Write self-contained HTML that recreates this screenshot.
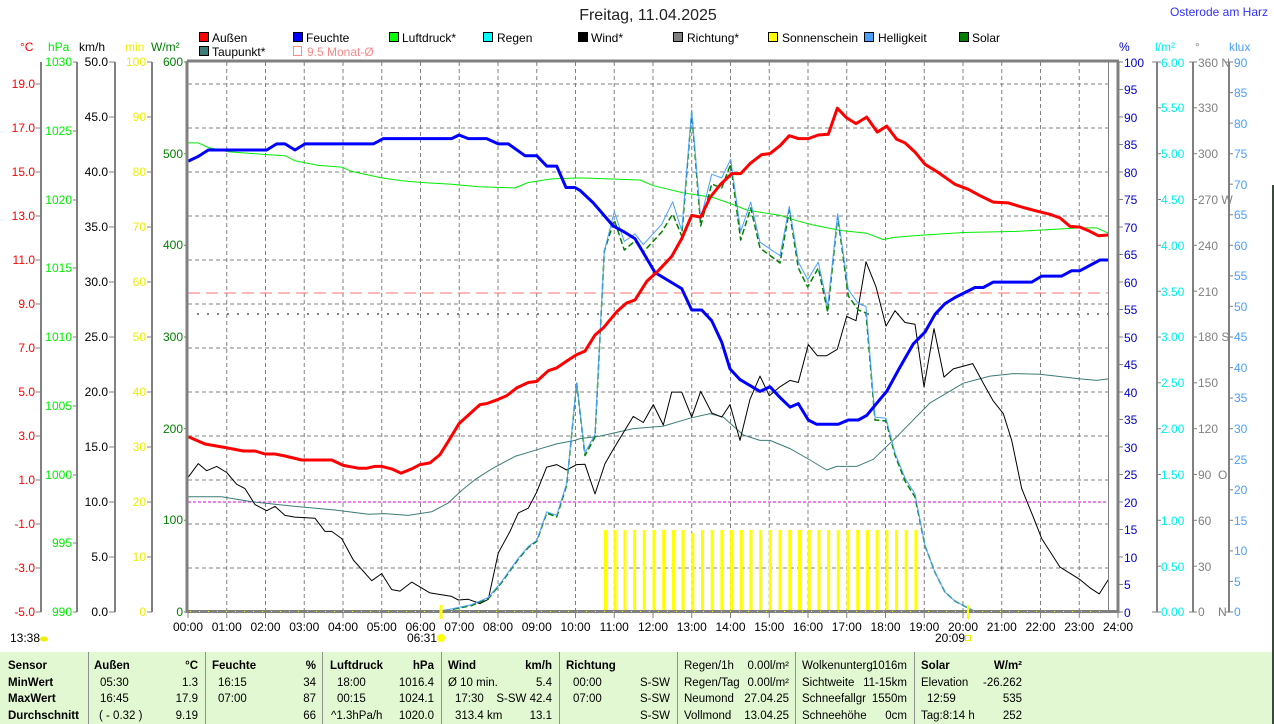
<!DOCTYPE html>
<html><head><meta charset="utf-8"><style>
html,body{margin:0;padding:0;background:#fff;}
svg{display:block;font-family:"Liberation Sans",sans-serif;font-size:12px;}
.tb text{font-size:11.5px;}
</style></head><body>
<svg width="1274" height="724" viewBox="0 0 1274 724" xmlns="http://www.w3.org/2000/svg">
<rect x="0" y="0" width="1274" height="724" fill="#fff"/>
<rect x="1272" y="185" width="2" height="539" fill="#3a4a3a"/>
<text x="648" y="20" font-size="16" text-anchor="middle" fill="#222">Freitag, 11.04.2025</text>
<text x="1268" y="16" text-anchor="end" fill="#3030ff">Osterode am Harz</text>

<!-- legend -->
<g stroke="#000" stroke-width="1">
<rect x="199.5" y="32.5" width="9" height="9" fill="#f00"/>
<rect x="293.5" y="32.5" width="9" height="9" fill="#00f"/>
<rect x="389.5" y="32.5" width="9" height="9" fill="#0f0"/>
<rect x="483.5" y="32.5" width="9" height="9" fill="#0ff"/>
<rect x="578.5" y="32.5" width="9" height="9" fill="#000"/>
<rect x="673.5" y="32.5" width="9" height="9" fill="#808080"/>
<rect x="768.5" y="32.5" width="9" height="9" fill="#ff0"/>
<rect x="864.5" y="32.5" width="9" height="9" fill="#4aa0ff"/>
<rect x="959.5" y="32.5" width="9" height="9" fill="#008000"/>
<rect x="199.5" y="46.5" width="9" height="9" fill="#3c7c78"/>
</g>
<rect x="293.5" y="46.5" width="8" height="9" fill="none" stroke="#f88" stroke-width="1"/>
<g fill="#000">
<text x="212" y="42">Außen</text><text x="306" y="42">Feuchte</text><text x="402" y="42">Luftdruck*</text>
<text x="497" y="42">Regen</text><text x="591" y="42">Wind*</text><text x="687" y="42">Richtung*</text>
<text x="782" y="42">Sonnenschein</text><text x="878" y="42">Helligkeit</text><text x="972" y="42">Solar</text>
<text x="212" y="56">Taupunkt*</text>
</g>
<text x="307" y="56" fill="#f88">9.5 Monat-Ø</text>

<!-- axis titles -->
<text x="20" y="51" fill="#f00">°C</text>
<text x="48" y="51" fill="#0e0">hPa</text>
<text x="79" y="51" fill="#000">km/h</text>
<text x="125" y="51" fill="#ee0">min</text>
<text x="151" y="51" fill="#008000">W/m²</text>
<text x="1119" y="51" fill="#00c">%</text>
<text x="1155" y="51" fill="#0ee">l/m²</text>
<text x="1195" y="51" fill="#808080">°</text>
<text x="1229" y="51" fill="#4aa0ff">klux</text>

<!-- left axis lines -->
<g stroke="#808080" stroke-width="2">
<line x1="41" y1="62" x2="41" y2="612"/>
<line x1="77" y1="62" x2="77" y2="612"/>
<line x1="115" y1="62" x2="115" y2="612"/>
<line x1="152" y1="62" x2="152" y2="612"/>
<line x1="1157" y1="62" x2="1157" y2="612"/>
<line x1="1193" y1="62" x2="1193" y2="612"/>
<line x1="1229" y1="62" x2="1229" y2="612"/>
</g>

<!-- grid -->
<g stroke="#808080" stroke-width="1" stroke-dasharray="4,3">
<line x1="188" y1="84" x2="1108" y2="84"/><line x1="188" y1="128" x2="1108" y2="128"/>
<line x1="188" y1="172" x2="1108" y2="172"/><line x1="188" y1="216" x2="1108" y2="216"/>
<line x1="188" y1="260" x2="1108" y2="260"/><line x1="188" y1="304" x2="1108" y2="304"/>
<line x1="188" y1="348" x2="1108" y2="348"/><line x1="188" y1="392" x2="1108" y2="392"/>
<line x1="188" y1="436" x2="1108" y2="436"/><line x1="188" y1="480" x2="1108" y2="480"/>
<line x1="188" y1="524" x2="1108" y2="524"/><line x1="188" y1="568" x2="1108" y2="568"/>
<line x1="226.75" y1="62" x2="226.75" y2="612"/><line x1="265.5" y1="62" x2="265.5" y2="612"/>
<line x1="304.25" y1="62" x2="304.25" y2="612"/><line x1="343" y1="62" x2="343" y2="612"/>
<line x1="381.75" y1="62" x2="381.75" y2="612"/><line x1="420.5" y1="62" x2="420.5" y2="612"/>
<line x1="459.25" y1="62" x2="459.25" y2="612"/><line x1="498" y1="62" x2="498" y2="612"/>
<line x1="536.75" y1="62" x2="536.75" y2="612"/><line x1="575.5" y1="62" x2="575.5" y2="612"/>
<line x1="614.25" y1="62" x2="614.25" y2="612"/><line x1="653" y1="62" x2="653" y2="612"/>
<line x1="691.75" y1="62" x2="691.75" y2="612"/><line x1="730.5" y1="62" x2="730.5" y2="612"/>
<line x1="769.25" y1="62" x2="769.25" y2="612"/><line x1="808" y1="62" x2="808" y2="612"/>
<line x1="846.75" y1="62" x2="846.75" y2="612"/><line x1="885.5" y1="62" x2="885.5" y2="612"/>
<line x1="924.25" y1="62" x2="924.25" y2="612"/><line x1="963" y1="62" x2="963" y2="612"/>
<line x1="1001.75" y1="62" x2="1001.75" y2="612"/><line x1="1040.5" y1="62" x2="1040.5" y2="612"/>
<line x1="1079.25" y1="62" x2="1079.25" y2="612"/>
</g>

<!-- reference lines -->
<line x1="188" y1="293" x2="1108" y2="293" stroke="#ff7070" stroke-width="1" stroke-dasharray="12,6"/>
<line x1="197" y1="314" x2="1108" y2="314" stroke="#808080" stroke-width="2" stroke-dasharray="2,8"/>
<line x1="188" y1="502" x2="1108" y2="502" stroke="#e000e0" stroke-width="1" stroke-dasharray="3,2"/>

<!-- sunshine bars -->
<g fill="#ff0">
<rect x="604" y="530" width="3" height="82"/><rect x="613.7" y="530" width="3" height="82"/><rect x="623.4" y="530" width="3" height="82"/><rect x="633.1" y="530" width="3" height="82"/>
<rect x="642.8" y="530" width="3" height="82"/><rect x="652.5" y="530" width="3" height="82"/><rect x="662.2" y="530" width="3" height="82"/><rect x="671.9" y="530" width="3" height="82"/>
<rect x="681.6" y="530" width="3" height="82"/><rect x="691.3" y="533" width="3" height="79"/><rect x="701" y="530" width="3" height="82"/><rect x="710.7" y="530" width="3" height="82"/>
<rect x="720.4" y="530" width="3" height="82"/><rect x="730.1" y="530" width="3" height="82"/><rect x="739.8" y="530" width="3" height="82"/><rect x="749.5" y="530" width="3" height="82"/>
<rect x="759.2" y="530" width="3" height="82"/><rect x="768.9" y="530" width="3" height="82"/><rect x="778.6" y="530" width="3" height="82"/><rect x="788.3" y="530" width="3" height="82"/>
<rect x="798" y="530" width="3" height="82"/><rect x="807.7" y="530" width="3" height="82"/><rect x="817.4" y="530" width="3" height="82"/><rect x="827.1" y="530" width="3" height="82"/>
<rect x="836.8" y="530" width="3" height="82"/><rect x="846.5" y="530" width="3" height="82"/><rect x="856.2" y="530" width="3" height="82"/><rect x="865.9" y="530" width="3" height="82"/>
<rect x="875.6" y="530" width="3" height="82"/><rect x="885.3" y="530" width="3" height="82"/><rect x="895" y="530" width="3" height="82"/><rect x="904.7" y="530" width="3" height="82"/>
<rect x="914.4" y="530" width="3" height="82"/>
</g>

<g fill="none" stroke-linejoin="round">
<polyline stroke="#3c7c78" stroke-width="1" points="188.3,496.8 221.7,496.8 251.7,501.8 295,506.4 335,510 368.3,514.3 385,513.6 408.3,515.4 431.7,511.8 448.3,502.9 461.7,490.4 475,479.6 491.7,468.9 515,456.4 538.3,449.3 556.7,443.9 575,440.4 580,438.6 600,436.1 633.3,428.6 663.3,426.1 690,418.2 710,413.6 723.3,417.1 743.3,435 760,440.4 770,440.4 790,448.6 810,460 826.7,470 836.7,466.4 856.7,466.4 873.3,459.3 896.7,436.8 930,402.9 963.3,383.2 990,376.1 1013.3,373.6 1040,374.3 1080,378.9 1096.7,380.4 1108.3,378.9"/>
<polyline stroke="#00ee00" stroke-width="1" points="188.3,142.9 198.3,142.9 208.3,147.5 228.3,151.8 266.7,154.6 285,155.7 295,160.7 318.3,165.4 341.7,167.1 351.7,171.4 381.7,177.9 401.7,180.7 421.7,182.5 451.7,184.3 478.3,186.8 515,187.9 528.3,182.5 551.7,178.9 580,177.9 640,180 653.3,185.7 683.3,192.9 713.3,197.5 733.3,204.6 746.7,210 780,215.4 796.7,220.7 813.3,225 840,230.4 866.7,233.2 883.3,239.6 893.3,237.5 913.3,235.7 963.3,232.5 1016.7,231.4 1080,227.9 1096.7,227.9 1108.3,233.2"/>
<polyline stroke="#000" stroke-width="1" points="188.3,477.1 198.3,463.6 206.7,470.7 216.7,466.4 226.7,472.5 236.7,484.3 245,488.6 255,504.6 266.7,510.7 275,506.4 285,515.4 295,517.1 315,518.2 325,531.4 331.7,531.4 341.7,538.6 353.3,560 371.7,580.7 381.7,573.6 391.7,589.6 400,591.1 411.7,582.1 430,592.9 451.7,596.4 458.3,600 468.3,599.3 480,603.6 488.3,599.3 498.3,552.9 510,531.4 518.3,512.9 528.3,508.2 536.7,492.1 546.7,467.1 556.7,464.6 566.7,470 576.7,464.6 585,464.3 595,493.9 605,463.6 613.3,449.3 633.3,416.4 643.3,422.5 653.3,404.6 663.3,425 671.7,392.1 681.7,392.1 691.7,417.1 700.7,391.4 711.7,412.9 721.7,417.1 730,404.6 740,440.4 750,399.3 760,376.1 769.3,395.7 780,386.8 790,380.4 798.3,382.5 808.3,344.6 817.3,355.7 826.7,355.7 837.3,349.3 846.7,316.4 856,320.7 866,261.8 876,286.8 886,326.1 895,310.7 905,322.5 915,324.3 924,386.8 934,328.6 944,377.1 953.3,368.9 972.7,363.6 983.3,383.2 993.3,401.1 1003.3,413.6 1011.7,440.4 1021.7,488.6 1033.3,517.1 1041.7,538.6 1060,567.1 1080,579.6 1090,587.9 1099.3,593.9 1108.3,579.6"/>
<polyline stroke="#008000" stroke-width="1.5" stroke-dasharray="6,3" points="435,612 451.7,609.5 471.7,605.5 488.3,598.5 501.7,582.4 518.3,559.2 528.3,547.4 536.7,541.4 546.7,513 556.7,517 566.7,485 576.7,383.2 585,455.5 595,437 604.3,251.1 614.3,220 624.3,250 635,241 643.3,252 661.7,232 672.7,214 681.7,236 691.7,112 700.7,226 711.7,184 721.7,188 730.7,164 740.7,240 750.7,208 760,248 780,263 789.3,210 798.3,268 807.7,287 818.3,268 827.7,312 837.7,216 848.3,296 858.3,310 866,313 875,420 886,421 895,455 905,481 915,497 925,545.7 935,572.5 945,592.1 955,601.1 965,606.4 975,611.8"/>
<polyline stroke="#4aa0ff" stroke-width="1" points="435,611.8 451.7,608.9 471.7,604.6 488.3,597.5 501.7,581.4 518.3,558.2 528.3,546.4 536.7,540.4 546.7,511.8 556.7,515.4 566.7,483.2 576.7,383.2 585,452.9 595,434.3 604.3,251.1 614.3,211.8 624.3,241.4 635,233.9 643.3,244.6 661.7,224.3 672.7,201.8 681.7,230.7 691.7,110 700.7,218.9 711.7,174.3 721.7,177.9 730.7,159.3 740.7,231.4 750.7,202.1 760,242.1 780,255.7 789.3,206.4 798.3,261.8 807.7,279.6 818.3,262.1 827.7,306.4 837.7,213.6 848.3,289.6 858.3,303.6 866,306.4 875,417.1 886,418.2 895,452.9 905,477.9 915,493.9 925,545.7 935,572.5 945,592.1 955,601.1 965,606.4 975,611.8"/>
<polyline stroke="#0000ff" stroke-width="3" points="188.3,161.1 198.3,156.4 208.3,150 266.7,150 276.7,143.9 285,143.9 295,150 305,143.9 373.3,143.9 383.3,138.6 451.7,138.6 459,135 468.3,138.6 486.7,138.6 498.3,143.9 508.3,143.9 525,155.7 536.7,155.7 546.7,166.1 556.7,166.1 566,187.5 575,187.5 580,190.4 593.3,202.9 613.3,226.1 623.3,231.4 635,238.6 655,272.5 681.7,288.6 691.7,310 701.7,310 711.7,320.7 721.7,342.1 730,368.9 740,379.6 760,391.4 770,386.8 780,397.5 790,407.1 798.3,403.6 808.3,420 816.7,424.3 838.3,424.3 848.3,420 858.3,420 866.7,415.4 880,399.3 886.7,391.4 900,367.1 913.3,343.9 925,332.1 935,314.3 945,303.6 955,297.5 975,287.5 983.3,287.5 993.3,282.1 1031.7,282.1 1041.7,276.1 1061.7,276.1 1071.7,270.7 1080,270.7 1100,260 1108.3,260"/>
<polyline stroke="#ff0000" stroke-width="3" points="188.3,436.8 205,444 225,447.5 243.3,451 255,451 265,454 275,454 285,456 301.7,460 331.7,460 343.3,465.4 358.3,468.2 366.7,468.2 375,466.4 381.7,466.4 391.7,468.9 401,473.2 411.7,468.9 420,464.6 430,462.9 440,454.6 450,438.6 459,423.6 470,413.6 480,404.6 486.7,403.6 498.3,399.3 506.7,395.7 516.7,387.9 528.3,382.5 536.7,381.4 548.3,370.7 556.7,367.9 568.3,360 576.7,354.6 585,351.1 595,335 603.3,327.9 616.7,311.8 626.7,302.9 635,300 646.7,281.4 658.3,270.7 671.7,256.4 681.7,238.6 691.7,215.4 700.7,217.1 710,197.5 720,185 731.7,173.6 740.7,173.6 750,163.6 761.7,154.6 770,153.6 780,145.7 789.3,135.7 798.3,138.6 808.3,138.6 818.3,135 828.3,134.3 837.3,108.2 846.7,117.9 856,123.6 866.7,117.1 877.3,132.1 886.7,126.1 896.7,139.3 905,142.9 915,152.1 925,164.3 938.3,172.5 955,184.3 968.3,189.3 980,195.7 993.3,202.1 1008.3,202.9 1023.3,207.5 1036.7,211.1 1050,214.3 1060,217.9 1070,226.4 1080,227.1 1090,231.4 1098.3,235.7 1108.3,235"/>
</g>

<!-- plot border -->
<g stroke="#808080" fill="none">
<line x1="187" y1="61" x2="1119" y2="61" stroke-width="3"/>
<line x1="187" y1="61" x2="187" y2="613" stroke-width="3"/>
<line x1="187" y1="611.5" x2="1119" y2="611.5" stroke-width="3"/>
<line x1="1118" y1="61" x2="1118" y2="613" stroke-width="3"/>
<line x1="1108.5" y1="62" x2="1108.5" y2="612" stroke-width="1"/>
</g>
<line x1="190" y1="611.5" x2="1108" y2="611.5" stroke="#ff0" stroke-width="1" stroke-dasharray="1,8"/>
<line x1="441" y1="605" x2="441" y2="619" stroke="#ff0" stroke-width="3"/>
<line x1="968" y1="605" x2="968" y2="619" stroke="#ff0" stroke-width="2"/>

<!-- x ticks -->
<g stroke="#808080" stroke-width="1">
<line x1="188" y1="612" x2="188" y2="618"/><line x1="226.75" y1="612" x2="226.75" y2="618"/><line x1="265.5" y1="612" x2="265.5" y2="618"/><line x1="304.25" y1="612" x2="304.25" y2="618"/><line x1="343" y1="612" x2="343" y2="618"/><line x1="381.75" y1="612" x2="381.75" y2="618"/><line x1="420.5" y1="612" x2="420.5" y2="618"/><line x1="459.25" y1="612" x2="459.25" y2="618"/><line x1="498" y1="612" x2="498" y2="618"/><line x1="536.75" y1="612" x2="536.75" y2="618"/><line x1="575.5" y1="612" x2="575.5" y2="618"/><line x1="614.25" y1="612" x2="614.25" y2="618"/><line x1="653" y1="612" x2="653" y2="618"/><line x1="691.75" y1="612" x2="691.75" y2="618"/><line x1="730.5" y1="612" x2="730.5" y2="618"/><line x1="769.25" y1="612" x2="769.25" y2="618"/><line x1="808" y1="612" x2="808" y2="618"/><line x1="846.75" y1="612" x2="846.75" y2="618"/><line x1="885.5" y1="612" x2="885.5" y2="618"/><line x1="924.25" y1="612" x2="924.25" y2="618"/><line x1="963" y1="612" x2="963" y2="618"/><line x1="1001.75" y1="612" x2="1001.75" y2="618"/><line x1="1040.5" y1="612" x2="1040.5" y2="618"/><line x1="1079.25" y1="612" x2="1079.25" y2="618"/><line x1="1118" y1="612" x2="1118" y2="618"/>
</g>
<g fill="#000" text-anchor="middle">
<text x="188" y="631">00:00</text><text x="226.75" y="631">01:00</text><text x="265.5" y="631">02:00</text><text x="304.25" y="631">03:00</text><text x="343" y="631">04:00</text><text x="381.75" y="631">05:00</text><text x="420.5" y="631">06:00</text><text x="459.25" y="631">07:00</text><text x="498" y="631">08:00</text><text x="536.75" y="631">09:00</text><text x="575.5" y="631">10:00</text><text x="614.25" y="631">11:00</text><text x="653" y="631">12:00</text><text x="691.75" y="631">13:00</text><text x="730.5" y="631">14:00</text><text x="769.25" y="631">15:00</text><text x="808" y="631">16:00</text><text x="846.75" y="631">17:00</text><text x="885.5" y="631">18:00</text><text x="924.25" y="631">19:00</text><text x="963" y="631">20:00</text><text x="1001.75" y="631">21:00</text><text x="1040.5" y="631">22:00</text><text x="1079.25" y="631">23:00</text><text x="1118" y="631">24:00</text>
</g>
<text x="10" y="642" fill="#000">13:38</text>
<ellipse cx="44" cy="639" rx="4" ry="2.5" fill="#ee0"/>
<text x="407" y="642" fill="#000">06:31</text>
<circle cx="441" cy="638" r="4" fill="#ff0"/>
<text x="935" y="642" fill="#000">20:09</text>
<rect x="965.5" y="635.5" width="5" height="5" fill="none" stroke="#ee0"/>

<!-- left tick marks -->
<g stroke="#808080" stroke-width="1">
<line x1="36" y1="84" x2="41" y2="84"/><line x1="36" y1="128" x2="41" y2="128"/><line x1="36" y1="172" x2="41" y2="172"/><line x1="36" y1="216" x2="41" y2="216"/><line x1="36" y1="260" x2="41" y2="260"/><line x1="36" y1="304" x2="41" y2="304"/><line x1="36" y1="348" x2="41" y2="348"/><line x1="36" y1="392" x2="41" y2="392"/><line x1="36" y1="436" x2="41" y2="436"/><line x1="36" y1="480" x2="41" y2="480"/><line x1="36" y1="524" x2="41" y2="524"/><line x1="36" y1="568" x2="41" y2="568"/><line x1="36" y1="612" x2="41" y2="612"/>
<line x1="73" y1="62" x2="77" y2="62"/><line x1="73" y1="131" x2="77" y2="131"/><line x1="73" y1="200" x2="77" y2="200"/><line x1="73" y1="268" x2="77" y2="268"/><line x1="73" y1="337" x2="77" y2="337"/><line x1="73" y1="406" x2="77" y2="406"/><line x1="73" y1="475" x2="77" y2="475"/><line x1="73" y1="543" x2="77" y2="543"/><line x1="73" y1="612" x2="77" y2="612"/>
<line x1="109" y1="62" x2="115" y2="62"/><line x1="109" y1="117" x2="115" y2="117"/><line x1="109" y1="172" x2="115" y2="172"/><line x1="109" y1="227" x2="115" y2="227"/><line x1="109" y1="282" x2="115" y2="282"/><line x1="109" y1="337" x2="115" y2="337"/><line x1="109" y1="392" x2="115" y2="392"/><line x1="109" y1="447" x2="115" y2="447"/><line x1="109" y1="502" x2="115" y2="502"/><line x1="109" y1="557" x2="115" y2="557"/><line x1="109" y1="612" x2="115" y2="612"/>
<line x1="147" y1="62" x2="152" y2="62"/><line x1="147" y1="117" x2="152" y2="117"/><line x1="147" y1="172" x2="152" y2="172"/><line x1="147" y1="227" x2="152" y2="227"/><line x1="147" y1="282" x2="152" y2="282"/><line x1="147" y1="337" x2="152" y2="337"/><line x1="147" y1="392" x2="152" y2="392"/><line x1="147" y1="447" x2="152" y2="447"/><line x1="147" y1="502" x2="152" y2="502"/><line x1="147" y1="557" x2="152" y2="557"/><line x1="147" y1="612" x2="152" y2="612"/>
<line x1="184" y1="62" x2="188" y2="62"/><line x1="184" y1="153.7" x2="188" y2="153.7"/><line x1="184" y1="245.3" x2="188" y2="245.3"/><line x1="184" y1="337" x2="188" y2="337"/><line x1="184" y1="428.7" x2="188" y2="428.7"/><line x1="184" y1="520.3" x2="188" y2="520.3"/><line x1="184" y1="612" x2="188" y2="612"/>
</g>
<g fill="#f00" text-anchor="end">
<text x="35" y="88">19.0</text><text x="35" y="132">17.0</text><text x="35" y="176">15.0</text><text x="35" y="220">13.0</text><text x="35" y="264">11.0</text><text x="35" y="308">9.0</text><text x="35" y="352">7.0</text><text x="35" y="396">5.0</text><text x="35" y="440">3.0</text><text x="35" y="484">1.0</text><text x="35" y="528">-1.0</text><text x="35" y="572">-3.0</text><text x="35" y="616">-5.0</text>
</g>
<g fill="#0e0" text-anchor="end">
<text x="72" y="66">1030</text><text x="72" y="135">1025</text><text x="72" y="204">1020</text><text x="72" y="272">1015</text><text x="72" y="341">1010</text><text x="72" y="410">1005</text><text x="72" y="479">1000</text><text x="72" y="547">995</text><text x="72" y="616">990</text>
</g>
<g fill="#000" text-anchor="end">
<text x="108" y="66">50.0</text><text x="108" y="121">45.0</text><text x="108" y="176">40.0</text><text x="108" y="231">35.0</text><text x="108" y="286">30.0</text><text x="108" y="341">25.0</text><text x="108" y="396">20.0</text><text x="108" y="451">15.0</text><text x="108" y="506">10.0</text><text x="108" y="561">5.0</text><text x="108" y="616">0.0</text>
</g>
<g fill="#ee0" text-anchor="end">
<text x="146" y="66">100</text><text x="146" y="121">90</text><text x="146" y="176">80</text><text x="146" y="231">70</text><text x="146" y="286">60</text><text x="146" y="341">50</text><text x="146" y="396">40</text><text x="146" y="451">30</text><text x="146" y="506">20</text><text x="146" y="561">10</text><text x="146" y="616">0</text>
</g>
<g fill="#008000" text-anchor="end">
<text x="183" y="66">600</text><text x="183" y="158">500</text><text x="183" y="249">400</text><text x="183" y="341">300</text><text x="183" y="433">200</text><text x="183" y="524">100</text><text x="183" y="616">0</text>
</g>

<!-- right ticks -->
<g stroke="#808080" stroke-width="1">
<line x1="1118" y1="62" x2="1123" y2="62"/><line x1="1118" y1="89.5" x2="1123" y2="89.5"/><line x1="1118" y1="117" x2="1123" y2="117"/><line x1="1118" y1="144.5" x2="1123" y2="144.5"/><line x1="1118" y1="172" x2="1123" y2="172"/><line x1="1118" y1="199.5" x2="1123" y2="199.5"/><line x1="1118" y1="227" x2="1123" y2="227"/><line x1="1118" y1="254.5" x2="1123" y2="254.5"/><line x1="1118" y1="282" x2="1123" y2="282"/><line x1="1118" y1="309.5" x2="1123" y2="309.5"/><line x1="1118" y1="337" x2="1123" y2="337"/><line x1="1118" y1="364.5" x2="1123" y2="364.5"/><line x1="1118" y1="392" x2="1123" y2="392"/><line x1="1118" y1="419.5" x2="1123" y2="419.5"/><line x1="1118" y1="447" x2="1123" y2="447"/><line x1="1118" y1="474.5" x2="1123" y2="474.5"/><line x1="1118" y1="502" x2="1123" y2="502"/><line x1="1118" y1="529.5" x2="1123" y2="529.5"/><line x1="1118" y1="557" x2="1123" y2="557"/><line x1="1118" y1="584.5" x2="1123" y2="584.5"/><line x1="1118" y1="612" x2="1123" y2="612"/>
<line x1="1152" y1="62" x2="1161" y2="62"/><line x1="1157" y1="107.8" x2="1161" y2="107.8"/><line x1="1157" y1="153.7" x2="1161" y2="153.7"/><line x1="1157" y1="199.5" x2="1161" y2="199.5"/><line x1="1157" y1="245.3" x2="1161" y2="245.3"/><line x1="1157" y1="291.2" x2="1161" y2="291.2"/><line x1="1157" y1="337" x2="1161" y2="337"/><line x1="1157" y1="382.8" x2="1161" y2="382.8"/><line x1="1157" y1="428.7" x2="1161" y2="428.7"/><line x1="1157" y1="474.5" x2="1161" y2="474.5"/><line x1="1157" y1="520.3" x2="1161" y2="520.3"/><line x1="1157" y1="566.2" x2="1161" y2="566.2"/><line x1="1152" y1="612" x2="1161" y2="612"/>
<line x1="1189" y1="62" x2="1197" y2="62"/><line x1="1193" y1="107.8" x2="1197" y2="107.8"/><line x1="1193" y1="153.7" x2="1197" y2="153.7"/><line x1="1193" y1="199.5" x2="1197" y2="199.5"/><line x1="1193" y1="245.3" x2="1197" y2="245.3"/><line x1="1193" y1="291.2" x2="1197" y2="291.2"/><line x1="1193" y1="337" x2="1197" y2="337"/><line x1="1193" y1="382.8" x2="1197" y2="382.8"/><line x1="1193" y1="428.7" x2="1197" y2="428.7"/><line x1="1193" y1="474.5" x2="1197" y2="474.5"/><line x1="1193" y1="520.3" x2="1197" y2="520.3"/><line x1="1193" y1="566.2" x2="1197" y2="566.2"/><line x1="1189" y1="612" x2="1197" y2="612"/>
<line x1="1225" y1="62" x2="1233" y2="62"/><line x1="1229" y1="92.6" x2="1233" y2="92.6"/><line x1="1229" y1="123.1" x2="1233" y2="123.1"/><line x1="1229" y1="153.7" x2="1233" y2="153.7"/><line x1="1229" y1="184.2" x2="1233" y2="184.2"/><line x1="1229" y1="214.8" x2="1233" y2="214.8"/><line x1="1229" y1="245.3" x2="1233" y2="245.3"/><line x1="1229" y1="275.9" x2="1233" y2="275.9"/><line x1="1229" y1="306.4" x2="1233" y2="306.4"/><line x1="1229" y1="337" x2="1233" y2="337"/><line x1="1229" y1="367.6" x2="1233" y2="367.6"/><line x1="1229" y1="398.1" x2="1233" y2="398.1"/><line x1="1229" y1="428.7" x2="1233" y2="428.7"/><line x1="1229" y1="459.2" x2="1233" y2="459.2"/><line x1="1229" y1="489.8" x2="1233" y2="489.8"/><line x1="1229" y1="520.3" x2="1233" y2="520.3"/><line x1="1229" y1="550.9" x2="1233" y2="550.9"/><line x1="1229" y1="581.4" x2="1233" y2="581.4"/><line x1="1225" y1="612" x2="1233" y2="612"/>
</g>
<g fill="#00c">
<text x="1124" y="67">100</text><text x="1124" y="94">95</text><text x="1124" y="122">90</text><text x="1124" y="149">85</text><text x="1124" y="177">80</text><text x="1124" y="204">75</text><text x="1124" y="232">70</text><text x="1124" y="259">65</text><text x="1124" y="287">60</text><text x="1124" y="314">55</text><text x="1124" y="342">50</text><text x="1124" y="369">45</text><text x="1124" y="397">40</text><text x="1124" y="424">35</text><text x="1124" y="452">30</text><text x="1124" y="479">25</text><text x="1124" y="507">20</text><text x="1124" y="534">15</text><text x="1124" y="562">10</text><text x="1124" y="589">5</text><text x="1124" y="617">0</text>
</g>
<g fill="#0ee">
<text x="1161" y="67">6.00</text><text x="1161" y="112">5.50</text><text x="1161" y="158">5.00</text><text x="1161" y="204">4.50</text><text x="1161" y="250">4.00</text><text x="1161" y="296">3.50</text><text x="1161" y="341">3.00</text><text x="1161" y="387">2.50</text><text x="1161" y="433">2.00</text><text x="1161" y="479">1.50</text><text x="1161" y="525">1.00</text><text x="1161" y="571">0.50</text><text x="1161" y="616">0.00</text>
</g>
<g fill="#808080">
<text x="1198" y="67">360 N</text><text x="1198" y="112">330</text><text x="1198" y="158">300</text><text x="1198" y="204">270 W</text><text x="1198" y="250">240</text><text x="1198" y="296">210</text><text x="1198" y="341">180 S</text><text x="1198" y="387">150</text><text x="1198" y="433">120</text><text x="1198" y="479">90&#160;&#160;O</text><text x="1198" y="525">60</text><text x="1198" y="571">30</text><text x="1198" y="616">0&#160;&#160;&#160;&#160;N</text>
</g>
<g fill="#4aa0ff">
<text x="1234" y="67">90</text><text x="1234" y="97">85</text><text x="1234" y="128">80</text><text x="1234" y="158">75</text><text x="1234" y="189">70</text><text x="1234" y="219">65</text><text x="1234" y="250">60</text><text x="1234" y="280">55</text><text x="1234" y="311">50</text><text x="1234" y="341">45</text><text x="1234" y="372">40</text><text x="1234" y="402">35</text><text x="1234" y="433">30</text><text x="1234" y="464">25</text><text x="1234" y="494">20</text><text x="1234" y="525">15</text><text x="1234" y="555">10</text><text x="1234" y="586">5</text><text x="1234" y="616">0</text>
</g>

<!-- table -->
<rect x="0" y="652" width="1272" height="72" fill="#e2f8d2"/>
<g stroke="#909090" stroke-width="1">
<line x1="88.5" y1="652" x2="88.5" y2="724"/><line x1="205.5" y1="652" x2="205.5" y2="724"/><line x1="322.5" y1="652" x2="322.5" y2="724"/><line x1="441.5" y1="652" x2="441.5" y2="724"/><line x1="559.5" y1="652" x2="559.5" y2="724"/><line x1="677.5" y1="652" x2="677.5" y2="724"/><line x1="795.5" y1="652" x2="795.5" y2="724"/><line x1="914.5" y1="652" x2="914.5" y2="724"/>
</g>
<g class="tb">
<g fill="#000" font-weight="bold">
<text x="8" y="669">Sensor</text><text x="8" y="686">MinWert</text><text x="8" y="702">MaxWert</text><text x="8" y="719">Durchschnitt</text>
<text x="94" y="669">Außen</text><text x="198" y="669" text-anchor="end">°C</text>
<text x="212" y="669">Feuchte</text><text x="316" y="669" text-anchor="end">%</text>
<text x="330" y="669">Luftdruck</text><text x="434" y="669" text-anchor="end">hPa</text>
<text x="448" y="669">Wind</text><text x="552" y="669" text-anchor="end">km/h</text>
<text x="566" y="669">Richtung</text>
<text x="921" y="669">Solar</text><text x="1022" y="669" text-anchor="end">W/m²</text>
</g>
<g fill="#000">
<text x="100" y="686">05:30</text><text x="198" y="686" text-anchor="end">1.3</text>
<text x="100" y="702">16:45</text><text x="198" y="702" text-anchor="end">17.9</text>
<text x="99" y="719">( - 0.32 )</text><text x="198" y="719" text-anchor="end">9.19</text>
<text x="218" y="686">16:15</text><text x="316" y="686" text-anchor="end">34</text>
<text x="218" y="702">07:00</text><text x="316" y="702" text-anchor="end">87</text>
<text x="316" y="719" text-anchor="end">66</text>
<text x="337" y="686">18:00</text><text x="434" y="686" text-anchor="end">1016.4</text>
<text x="337" y="702">00:15</text><text x="434" y="702" text-anchor="end">1024.1</text>
<text x="331" y="719">^1.3hPa/h</text><text x="434" y="719" text-anchor="end">1020.0</text>
<text x="448" y="686">Ø 10 min.</text><text x="552" y="686" text-anchor="end">5.4</text>
<text x="455" y="702">17:30</text><text x="552" y="702" text-anchor="end">S-SW 42.4</text>
<text x="455" y="719">313.4 km</text><text x="552" y="719" text-anchor="end">13.1</text>
<text x="573" y="686">00:00</text><text x="670" y="686" text-anchor="end">S-SW</text>
<text x="573" y="702">07:00</text><text x="670" y="702" text-anchor="end">S-SW</text>
<text x="670" y="719" text-anchor="end">S-SW</text>
<text x="684" y="669">Regen/1h</text><text x="789" y="669" text-anchor="end">0.00l/m²</text>
<text x="684" y="686">Regen/Tag</text><text x="789" y="686" text-anchor="end">0.00l/m²</text>
<text x="684" y="702">Neumond</text><text x="789" y="702" text-anchor="end">27.04.25</text>
<text x="684" y="719">Vollmond</text><text x="789" y="719" text-anchor="end">13.04.25</text>
<text x="802" y="669">Wolkenunterg</text><text x="907" y="669" text-anchor="end">1016m</text>
<text x="802" y="686">Sichtweite</text><text x="907" y="686" text-anchor="end">11-15km</text>
<text x="802" y="702">Schneefallgr</text><text x="907" y="702" text-anchor="end">1550m</text>
<text x="802" y="719">Schneehöhe</text><text x="907" y="719" text-anchor="end">0cm</text>
<text x="921" y="686">Elevation</text><text x="1022" y="686" text-anchor="end">-26.262</text>
<text x="927" y="702">12:59</text><text x="1022" y="702" text-anchor="end">535</text>
<text x="921" y="719">Tag:8:14 h</text><text x="1022" y="719" text-anchor="end">252</text>
</g>
</g>
</svg>
</body></html>
